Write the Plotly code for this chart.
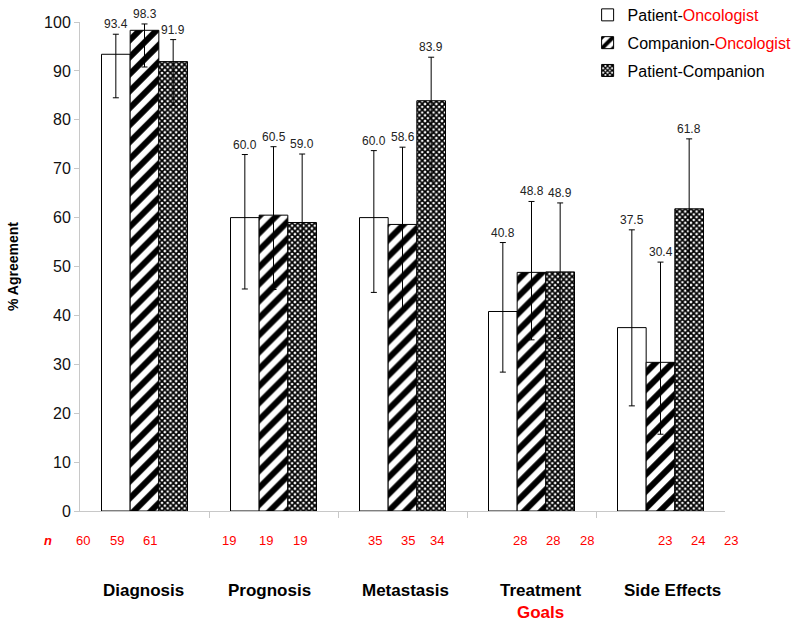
import plotly.graph_objects as go

categories = ["Diagnosis", "Prognosis", "Metastasis", "Treatment", "Side Effects"]
series_names = ["Patient-<span style='color:red'>Oncologist</span>",
                "Companion-<span style='color:red'>Oncologist</span>",
                "Patient-Companion"]

pat_onc = [93.4, 60.0, 60.0, 40.8, 37.5]
pat_onc_hi = [97.5, 72.9, 73.7, 54.9, 57.5]
pat_onc_lo = [84.5, 45.4, 44.7, 28.4, 21.5]

comp_onc = [98.3, 60.5, 58.6, 48.8, 30.4]
comp_onc_hi = [99.6, 74.5, 74.4, 63.3, 50.9]
comp_onc_lo = [90.8, 45.3, 41.0, 35.0, 15.7]

pat_comp = [91.9, 59.0, 83.9, 48.9, 61.8]
pat_comp_hi = [96.4, 73.0, 92.8, 63.0, 76.1]
pat_comp_lo = [83.0, 43.0, 67.5, 35.3, 45.2]

n_labels = [["60", "59", "61"], ["19", "19", "19"], ["35", "35", "34"],
            ["28", "28", "28"], ["23", "24", "23"]]
n_offsets = [[-0.48, -0.21, 0.04], [-0.345, -0.06, 0.205], [-0.21, 0.04, 0.27],
             [-0.09, 0.17, 0.43], [0.035, 0.29, 0.55]]
cat_offsets = [-0.01, -0.03, 0.02, 0.07, 0.09]

FONT = "Arial, 'Liberation Sans', sans-serif"
xs = list(range(len(categories)))
NCAT = len(categories)

series = [
    (pat_onc, pat_onc_hi, pat_onc_lo, dict(shape="", bgcolor="white")),
    (comp_onc, comp_onc_hi, comp_onc_lo,
     dict(shape="/", fgcolor="black", bgcolor="white", size=12, solidity=0.5, fgopacity=1)),
    (pat_comp, pat_comp_hi, pat_comp_lo,
     dict(shape="x", fgcolor="black", bgcolor="white", size=4, solidity=0.68, fgopacity=1)),
]

YDOM_TOP = 489 / 511


def to_paper_x(v):
    return (v + 0.5) / NCAT


fig = go.Figure()
for k, (name, (vals, hi, lo, pat)) in enumerate(zip(series_names, series)):
    fig.add_trace(go.Bar(
        x=xs, y=vals, name=name, legendgroup=f"g{k}",
        marker=dict(color="white", line=dict(color="black", width=1), pattern=pat),
        error_y=dict(type="data", symmetric=False,
                     array=[h - v for h, v in zip(hi, vals)],
                     arrayminus=[v - l for v, l in zip(vals, lo)],
                     color="black", thickness=1, width=3),
    ))

bargap = 1 / 3
bw = (1 - bargap) / 3
annotations = []
for k, (vals, hi, lo, pat) in enumerate(series):
    off = (k - 1) * bw
    for i, (v, h) in enumerate(zip(vals, hi)):
        annotations.append(dict(x=i + off, y=h, xref="x", yref="y", text=f"{v:.1f}",
                                showarrow=False, yanchor="bottom", yshift=1,
                                font=dict(family=FONT, size=12, color="#222")))

N_Y = -29 / 511
CAT_Y = -68 / 511
annotations.append(dict(x=to_paper_x(-0.75), y=N_Y, xref="paper", yref="paper",
                        text="<b><i>n</i></b>", showarrow=False,
                        xanchor="center", yanchor="middle",
                        font=dict(family=FONT, size=13, color="red")))
for i, (labs, offs) in enumerate(zip(n_labels, n_offsets)):
    for lab, o in zip(labs, offs):
        annotations.append(dict(x=to_paper_x(i + o), y=N_Y, xref="paper", yref="paper",
                                text=lab, showarrow=False,
                                xanchor="center", yanchor="middle",
                                font=dict(family=FONT, size=13, color="red")))

for i, (c, o) in enumerate(zip(categories, cat_offsets)):
    txt = f"<b>{c}</b>"
    if c == "Treatment":
        txt = "<b>Treatment</b><br><b><span style='color:red'>Goals</span></b>"
    annotations.append(dict(x=to_paper_x(i + o), y=CAT_Y, xref="paper", yref="paper",
                            text=txt, showarrow=False, xanchor="center", yanchor="top",
                            font=dict(family=FONT, size=17, color="black")))

fig.update_layout(
    width=800, height=624,
    paper_bgcolor="white", plot_bgcolor="white",
    margin=dict(l=80, r=75, t=0, b=113, autoexpand=False),
    barmode="group", bargap=bargap, bargroupgap=0,
    font=dict(family=FONT, color="black"),
    legend=dict(x=0.787, xanchor="left", y=1.004, yanchor="top",
                font=dict(family=FONT, size=16, color="black"),
                bgcolor="rgba(0,0,0,0)", tracegroupgap=4),
    annotations=annotations,
    xaxis=dict(range=[-0.5, 4.5], showgrid=False, zeroline=False, automargin=False,
               showline=True, linecolor="#c8c8c8", linewidth=1,
               tickvals=[0.5, 1.5, 2.5, 3.5], ticks="outside", ticklen=6,
               tickcolor="#c8c8c8", showticklabels=False),
    yaxis=dict(range=[0, 100], domain=[0, YDOM_TOP], showgrid=False, zeroline=False,
               automargin=False,
               showline=True, linecolor="#c8c8c8", linewidth=1,
               tickvals=list(range(0, 101, 10)), ticks="outside", ticklen=5,
               tickcolor="#c8c8c8", tickfont=dict(family=FONT, size=16, color="#111"),
               title=dict(text="<b>% Agreement</b>", standoff=22,
                          font=dict(family=FONT, size=14, color="black"))),
)

fig.write_html("out.html", config={"displayModeBar": False},
               post_script="document.body.style.margin='0px';")
